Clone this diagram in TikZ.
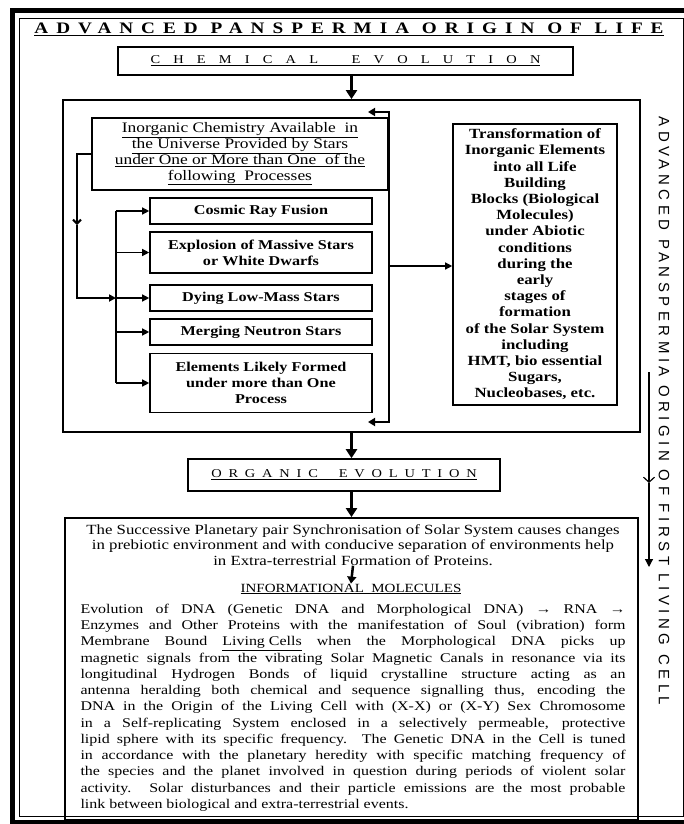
\documentclass[tikz,border=0pt]{standalone}
\usepackage{fontspec}
\setmainfont{Liberation Serif}[FakeStretch=1.2]
\newfontfamily\sidefont{Liberation Sans}[LetterSpace=30]
\usetikzlibrary{arrows.meta}

\begin{document}
\begin{tikzpicture}[x=1pt, y=-1pt,
  box/.style={draw, line width=1.6pt, inner sep=0pt, align=center},
  txt/.style={inner sep=0pt, align=center},
  procfont/.style={font=\fontsize{13.5}{16}\selectfont\bfseries},
  bigarrow/.style={line width=3pt, -{Triangle[length=9pt,width=11pt]}},
  arrow/.style={line width=1.3pt, -{Triangle[length=7pt,width=7pt]}},
  brace/.style={line width=2pt}]

\useasboundingbox (0,0) rectangle (684,824);
\draw[line width=5pt] (12.5,10.5) rectangle (696,822);
\draw[line width=0.8pt] (19.5,18) rectangle (683,816.5);

\node[txt, font=\fontsize{16}{18}\selectfont\bfseries] (title) at (349,29) {\addfontfeature{LetterSpace=50}\underline{ADVANCED PANSPERMIA ORIGIN OF LIFE}};
\node[box, minimum width=455pt, minimum height=28pt, font=\fontsize{12}{14}\selectfont] (chemevo) at (345.5,61) {\addfontfeature{LetterSpace=110}\underline{CHEMICAL\ \ EVOLUTION}};

\node[draw, line width=1.8pt, minimum width=577pt, minimum height=332pt] (chemblock) at (351.5,266) {};
\node[box, minimum width=296pt, minimum height=72pt, font=\fontsize{14.5}{15.8}\selectfont] (inorg) at (240,154) {\underline{Inorganic Chemistry Available\ \ in}\\\underline{the Universe Provided by Stars}\\\underline{under One or More than One\ \ of the}\\\underline{following\ \ Processes}};
\node[box, procfont, minimum width=222pt, minimum height=26pt] (cosmic) at (261,211) {Cosmic Ray Fusion};
\node[box, procfont, minimum width=222pt, minimum height=41pt] (explosion) at (261,252.5) {Explosion of Massive Stars\\or White Dwarfs};
\node[box, procfont, minimum width=222pt, minimum height=26pt] (dying) at (261,298) {Dying Low-Mass Stars};
\node[box, procfont, minimum width=222pt, minimum height=26pt] (merging) at (261,332) {Merging Neutron Stars};
\node[box, procfont, minimum width=222pt, minimum height=59pt] (likely) at (261,383) {Elements Likely Formed\\under more than One\\Process};
\node[box, minimum width=164pt, minimum height=281pt, font=\fontsize{14}{16.2}\selectfont\bfseries] (transform) at (535,264.5) {Transformation of\\Inorganic Elements\\into all Life\\Building\\Blocks (Biological\\Molecules)\\under Abiotic\\conditions\\during the\\early\\stages of\\formation\\of the Solar System\\including\\HMT, bio essential\\Sugars,\\Nucleobases, etc.};

\coordinate (trunktop) at (116,211);
\coordinate (trunkbot) at (116,383);
\draw[line width=1.3pt] (trunktop) -- (trunkbot);
\draw[arrow] (trunktop |- cosmic.west) -- (cosmic.west);
\draw[arrow] (trunktop |- explosion.west) -- (explosion.west);
\draw[arrow] (trunktop |- dying.west) -- (dying.west);
\draw[arrow] (trunktop |- merging.west) -- (merging.west);
\draw[arrow] (trunktop |- likely.west) -- (likely.west);

\coordinate (leftbend) at (77,225);
\draw[brace, -{Straight Barb[length=4pt,width=8pt]}] (inorg.west) -| (leftbend);
\draw[brace, -{Triangle[length=7pt,width=7pt]}] (leftbend) |- (trunktop |- dying.west);

\coordinate (bracemid) at (389,266);
\coordinate (bracetop) at (368,112);
\coordinate (bracebot) at (368,422);
\draw[brace, -{Triangle[length=7pt,width=8pt]}] (bracemid) |- (bracetop);
\draw[brace, -{Triangle[length=7pt,width=8pt]}] (bracemid) |- (bracebot);
\draw[arrow] (bracemid) -- (bracemid -| transform.west);

\draw[bigarrow] (chemblock.north |- chemevo.south) -- (chemblock.north);

\node[box, minimum width=312pt, minimum height=32pt, font=\fontsize{12}{14}\selectfont] (orgevo) at (344,475) {\addfontfeature{LetterSpace=57}\underline{ORGANIC\ \ EVOLUTION}};
\draw[bigarrow] (chemblock.south) -- (chemblock.south |- orgevo.north);

\node[draw, line width=1.8pt, minimum width=573pt, minimum height=302pt] (origin) at (351.5,669) {};
\draw[bigarrow] (origin.north |- orgevo.south) -- (origin.north);

\node[txt, font=\fontsize{14}{15.5}\selectfont] (pairsync) at (353,545) {The Successive Planetary pair Synchronisation of Solar System causes changes\\in prebiotic environment and with conducive separation of environments help\\in Extra-terrestrial Formation of Proteins.};
\node[txt, font=\fontsize{12.5}{14}\selectfont] (infomol) at (351,589) {\underline{INFORMATIONAL\ \ MOLECULES}};
\draw[line width=2.5pt, -{Triangle[length=7pt,width=9pt]}] (pairsync.south) -- (infomol.north);

\node[inner sep=0pt, text width=545pt, align=justify, font=\fontsize{13.3}{16.25}\selectfont] (dnatext) at (353,707.5) {Evolution of DNA (Genetic DNA and Morphological DNA) → RNA →\linebreak Enzymes and Other Proteins with the manifestation of Soul (vibration) form\linebreak Membrane Bound \underline{Living Cells} when the Morphological DNA picks up\linebreak magnetic signals from the vibrating Solar Magnetic Canals in resonance via its\linebreak longitudinal Hydrogen Bonds of liquid crystalline structure acting as an\linebreak antenna heralding both chemical and sequence signalling thus, encoding the\linebreak DNA in the Origin of the Living Cell with (X-X) or (X-Y) Sex Chromosome\linebreak in a Self-replicating System enclosed in a selectively permeable, protective\linebreak lipid sphere with its specific frequency. The Genetic DNA in the Cell is tuned\linebreak in accordance with the planetary heredity with specific matching frequency of\linebreak the species and the planet involved in question during periods of violent solar\linebreak activity. Solar disturbances and their particle emissions are the most probable\linebreak link between biological and extra-terrestrial events.};

\node[txt, rotate=-90, font=\sidefont\fontsize{15}{17}\selectfont] (sidetitle) at (664,411) {ADVANCED PANSPERMIA ORIGIN OF FIRST LIVING CELL};
\coordinate (sidetop) at (649,372);
\coordinate (sidemid) at (649,483);
\coordinate (sidebot) at (649,567);
\draw[line width=1.2pt, -{Straight Barb[length=5pt,width=11pt]}] (sidetop) -- (sidemid);
\draw[line width=1.2pt, -{Triangle[length=8pt,width=8pt]}] (sidemid) -- (sidebot);
\end{tikzpicture}
\end{document}
